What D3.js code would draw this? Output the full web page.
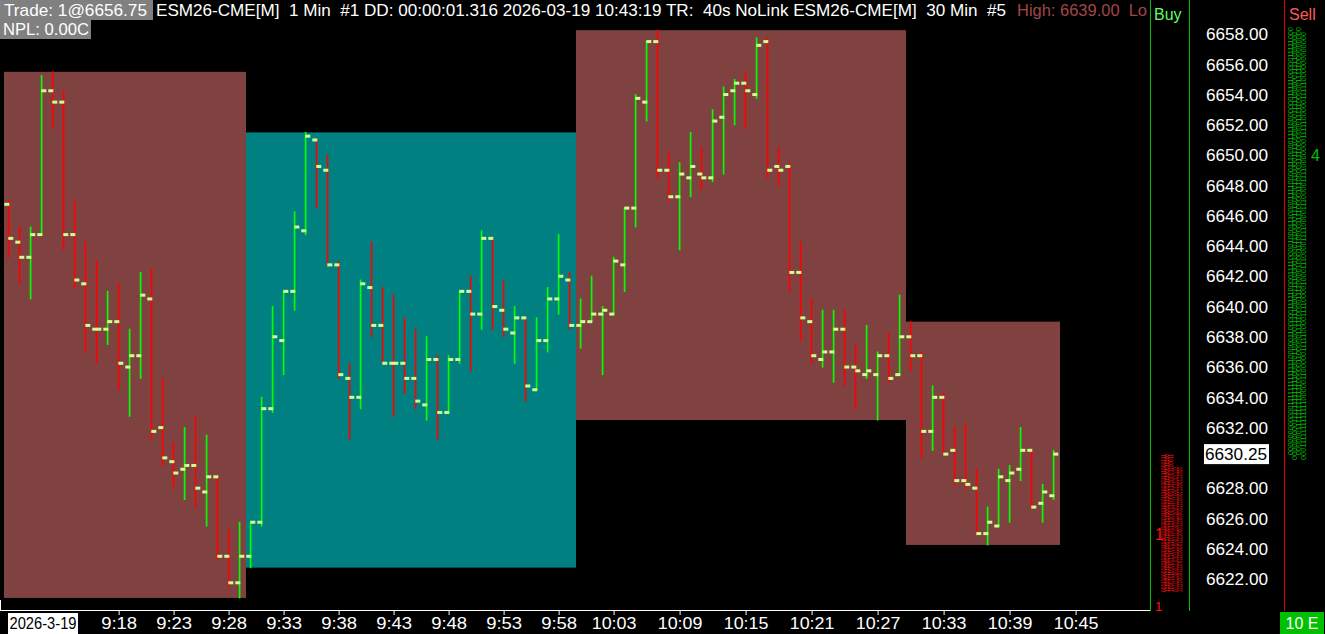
<!DOCTYPE html>
<html><head><meta charset="utf-8">
<script src="https://cdn.jsdelivr.net/npm/d3@7"></script>
<style>
body{margin:0;background:#000;overflow:hidden}
svg{display:block}
text{font-family:"Liberation Sans",Arial,sans-serif}
</style></head>
<body><svg id="c" width="1325" height="634"></svg>
<script>
// ---------- data ----------
const firstBarTime = [9, 8];          // 09:08, one bar per minute
const opens  = [6646.75,6644.25,6643.25,6644.75,6654.25,6653.5,6644.75,6641.5,6638.5,6638.5,6639,6636,6636.75,6640.5,6632,6629.75,6629.25,6629.5,6627.75,6628.75,6623.5,6621.75,
                6623.5,6625.75,6633.25,6637.75,6641,6645,6651,6649,6642.75,6635.25,6634,6641.25,6638.75,6636.25,6636.25,6635.25,6633.5,6636.5,6633,6636.5,6641,6639.5,6644.5,6639.75,6638.25,6639.25,6634.5,6637.75,6640.5,6641.75,
                6638.75,6639,6639.5,6639.5,6642.75,6646.5,6653.5,6657.5,6649,6647.25,6648.5,6648.75,6648.5,6652.5,6654.25,6654.75,6654,6657.5,6649.25,6649.25,6642.25,6639,6636.5,6637,6638.5,6636,6635.5,6635.5,6636.75,6635.5,
                6638,6636.75,6631.75,6634,6630.5,6628.5,6628,6625,6625.5,6628.5,6629.25,6630.5,6627,6627.5];
const highs  = [6647,6645.25,6645.25,6655.25,6655.5,6654.25,6647,6644.25,6643,6641,6641.5,6638.5,6642.25,6642.5,6635.25,6631,6632,6632.75,6631.5,6628.75,6625.25,6625.75,
                6625.75,6634,6640,6641,6646.25,6651.5,6651,6650,6643,6636.25,6641.75,6644.25,6641.25,6640.75,6639.25,6638.5,6638,6636.75,6636.75,6641,6642,6645,6644.5,6641.75,6640,6639.25,6639.25,6641.25,6644.75,6642.25,
                6640.5,6642,6640,6643.25,6646.5,6654,6657.5,6658.25,6650.25,6649.5,6651.5,6650.5,6653,6654.5,6655,6655.5,6657.75,6657.75,6650.5,6649.5,6644.25,6640.5,6639.75,6639.75,6639.75,6637.5,6638.75,6637,6638.25,6640.75,
                6639,6637,6634.75,6634.25,6632,6632.25,6629.25,6626.75,6629.25,6629.5,6632,6630.5,6628.25,6630.5];
const lows   = [6643.25,6641.5,6640.5,6644.75,6651.75,6643.75,6641.25,6637,6636.25,6637.5,6634.5,6632.75,6635.25,6631.25,6629.5,6628,6627.25,6626.75,6625.5,6623.25,6621.5,6620.75,
                6622.75,6625.5,6633,6635.5,6639.75,6644.75,6646.5,6642.75,6635.25,6631.25,6633.25,6638,6636.25,6632.75,6634.25,6633.25,6632.5,6631.25,6633,6636.25,6635.75,6638.5,6638.5,6638,6636.25,6633.75,6634.5,6637,6639.5,6638.5,
                6637.25,6639,6635.5,6639.5,6641,6645.25,6652.25,6648.5,6647,6643.75,6647.25,6647.75,6648.25,6648.75,6652,6651.75,6653.75,6648.5,6648,6641,6637.75,6636.25,6636,6635,6634.75,6633.25,6635.25,6632.5,6635,6635.5,
                6635.75,6630,6630.5,6630.25,6628.25,6628,6625,6624.25,6625.5,6625.75,6628.5,6626.75,6625.75,6627.25];
const closes = [6644.5,6643.25,6644.75,6654.25,6653.5,6644.75,6641.75,6638.75,6638.5,6639,6636.25,6636.75,6640.75,6631.75,6630,6629,6629.5,6628,6628.75,6623.5,6621.75,6623.5,
                6625.75,6633.25,6638,6641,6645.25,6651.25,6649.25,6642.75,6635.5,6634,6641.5,6638.75,6636.25,6636.25,6635.25,6633.75,6636.5,6633,6636.5,6641,6639.5,6644.5,6640,6638.5,6639.25,6634.75,6637.75,6640.5,6642,6638.75,
                6639,6639.5,6639.75,6643,6646.5,6653.75,6657.5,6649,6647.25,6648.75,6649.25,6648.5,6652.25,6654,6654.75,6654.25,6657.25,6649,6649,6642.25,6639.25,6636.75,6637,6638.5,6636,6635.75,6635.75,6636.75,6635.25,6638,
                6636.75,6631.75,6634,6630.25,6628.5,6628.25,6625,6625.75,6628.75,6629,6630.5,6626.75,6627.75,6630.25];
const priceTicks = [6622,6624,6626,6628,6632,6634,6636,6638,6640,6642,6644,6646,6648,6650,6652,6654,6656,6658];
const timeTickLabels = ["9:18","9:23","9:28","9:33","9:38","9:43","9:48","9:53","9:58","10:03","10:09","10:15","10:21","10:27","10:33","10:39","10:45"];
const dateLabel = "2026-3-19";
const lastPrice = 6630.25;
const headerTrade = "Trade: 1@6656.75";
const headerMain = "ESM26-CME[M]  1 Min  #1 DD: 00:00:01.316 2026-03-19 10:43:19 TR:  40s NoLink ESM26-CME[M]  30 Min  #5";
const headerHigh = "High: 6639.00  Lo";
const headerNPL = "NPL: 0.00C";

// ---------- colours ----------
const C = {bg:"#000", up:"#00ff00", dn:"#ff0000", tick:"#ccff90", boxDn:"#804141", boxUp:"#008080",
           white:"#ffffff", grey:"#808080", high:"#a24646", buy:"#60ff60", sell:"#ff5a5a", ggreen:"#00c000"};

const svg = d3.select("#c");
svg.append("rect").attr("width",1325).attr("height",634).attr("fill",C.bg);

const t0 = new Date(2026,2,19,firstBarTime[0],firstBarTime[1]);
const times = opens.map((_,i)=>d3.timeMinute.offset(t0,i));
const step = 11;
const x = d3.scaleTime().domain([t0, times[times.length-1]]).range([8.6, 8.6 + (times.length-1)*step]);
const y = d3.scaleLinear().domain([6622,6658]).range([579,34]);

const bars = opens.map((o,i)=>({t:times[i],o,h:highs[i],l:lows[i],c:closes[i]}));

// ---------- 30 min boxes ----------
const groups = d3.groups(bars, d=>Math.floor((d.t.getHours()*60+d.t.getMinutes())/30));
const plot = svg.append("g");
plot.selectAll("rect.box").data(groups).join("rect").attr("class","box")
  .attr("x", g=>x(g[1][0].t)-4.6)
  .attr("width", g=>g[1].length*step)
  .attr("y", g=>y(d3.max(g[1],d=>d.h)))
  .attr("height", g=>y(d3.min(g[1],d=>d.l))-y(d3.max(g[1],d=>d.h)))
  .attr("fill", g=>g[1][g[1].length-1].c > g[1][0].o ? C.boxUp : C.boxDn);

// ---------- OHLC bars ----------
const bg = plot.append("g");
bg.selectAll("line").data(bars).join("line")
  .attr("x1",d=>x(d.t)).attr("x2",d=>x(d.t))
  .attr("y1",d=>y(d.h)-0.5).attr("y2",d=>y(d.l)+0.5)
  .attr("stroke",d=>d.c>d.o?C.up:C.dn).attr("stroke-width",1.7);
bg.selectAll("rect.o").data(bars).join("rect").attr("class","o")
  .attr("x",d=>x(d.t)-4.3).attr("width",5).attr("y",d=>y(d.o)-1.5).attr("height",3).attr("fill",C.tick);
bg.selectAll("rect.c").data(bars).join("rect").attr("class","c")
  .attr("x",d=>x(d.t)-0.3).attr("width",5).attr("y",d=>y(d.c)-1.5).attr("height",3).attr("fill",C.tick);

// ---------- bottom time axis ----------
svg.append("line").attr("x1",0).attr("x2",1150).attr("y1",610.5).attr("y2",610.5).attr("stroke",C.white);
svg.append("line").attr("x1",0.5).attr("x2",0.5).attr("y1",600).attr("y2",611).attr("stroke",C.white);
const tickTimes = timeTickLabels.map(s=>{const [h,m]=s.split(":").map(Number);return new Date(2026,2,19,h,m);});
const axisG = svg.append("g").attr("transform","translate(0,611)");
const xAxis = d3.axisBottom(x).tickValues(tickTimes).tickFormat((d,i)=>timeTickLabels[i]).tickSize(4).tickPadding(2);
axisG.call(xAxis);
axisG.select(".domain").remove();
axisG.selectAll(".tick line").attr("stroke",C.white);
axisG.selectAll(".tick text").attr("fill",C.white).attr("font-size",16).attr("dy",0).attr("y",18)
  .attr("textLength",(d,i)=>{const s=timeTickLabels[i];return (s.length-1)*8.8+9.5;}).attr("lengthAdjust","spacingAndGlyphs");
svg.append("rect").attr("x",8).attr("y",613).attr("width",70).attr("height",21).attr("fill",C.white);
svg.append("text").attr("x",9.5).attr("y",629).attr("font-size",16).attr("fill","#000")
  .attr("textLength",67).attr("lengthAdjust","spacingAndGlyphs").text(dateLabel);

// ---------- right price axis ----------
const yAxisG = svg.append("g").attr("transform","translate(1268,0)");
yAxisG.call(d3.axisLeft(y).tickValues(priceTicks).tickFormat(d3.format(".2f")).tickSize(0).tickPadding(0));
yAxisG.select(".domain").remove();
yAxisG.selectAll(".tick text").attr("fill",C.white).attr("font-size",16).attr("dy","0.36em")
  .attr("textLength",62).attr("lengthAdjust","spacingAndGlyphs");
svg.append("rect").attr("x",1204).attr("y",y(lastPrice)-10).attr("width",65).attr("height",20).attr("fill",C.white);
svg.append("text").attr("x",1267).attr("y",y(lastPrice)).attr("dy","0.36em").attr("text-anchor","end")
  .attr("font-size",16).attr("fill","#000").attr("textLength",62).attr("lengthAdjust","spacingAndGlyphs")
  .text(d3.format(".2f")(lastPrice));

// column lines
svg.append("line").attr("x1",1150.5).attr("x2",1150.5).attr("y1",0).attr("y2",611).attr("stroke","#00c000");
svg.append("line").attr("x1",1189.5).attr("x2",1189.5).attr("y1",0).attr("y2",611).attr("stroke","#00c000");
svg.append("line").attr("x1",1284.5).attr("x2",1284.5).attr("y1",0).attr("y2",611).attr("stroke","#e00000");
svg.append("text").attr("x",1154).attr("y",20).attr("font-size",16).attr("fill",C.buy).text("Buy");
svg.append("text").attr("x",1289).attr("y",20).attr("font-size",16).attr("fill",C.sell).text("Sell");

// dense rotated volume text (sell column, green)
const sellCols = [1293,1297,1301,1306];
const sellStr = "0000000000001111111111111000001100000111110000111100001000111000011110000111000011110000000111110000011111000";
sellCols.forEach((cx,k)=>{
  svg.append("text").attr("transform",`translate(${cx},${k%2?460:455}) rotate(-90)`)
    .attr("font-size",7).attr("fill",C.ggreen).attr("textLength",428).attr("lengthAdjust","spacingAndGlyphs")
    .text(sellStr.slice(k*3)+sellStr.slice(0,k*3));
});
svg.append("text").attr("x",1311).attr("y",161).attr("font-size",16).attr("fill",C.ggreen).text("4");
// dense rotated volume text (buy column, red)
const buyCols = [1166,1169,1173,1178,1182];
const buyStr = "0011100011110000111001110000111100011100001111000111";
buyCols.forEach((cx,k)=>{
  svg.append("text").attr("transform",`translate(${cx},${592}) rotate(-90)`)
    .attr("font-size",7).attr("fill","#ff1010").attr("textLength",k<3?138:125).attr("lengthAdjust","spacingAndGlyphs")
    .text(buyStr.slice(k*2)+buyStr.slice(0,k*2));
});
svg.append("text").attr("x",1155).attr("y",540).attr("font-size",16).attr("fill","#ff1010").text("1");
svg.append("text").attr("x",1155).attr("y",611).attr("font-size",13).attr("fill","#ff1010").text("1");

// 10 E box
svg.append("rect").attr("x",1280).attr("y",612).attr("width",44).attr("height",22).attr("fill","#00c000");
svg.append("text").attr("x",1302).attr("y",629).attr("text-anchor","middle").attr("font-size",16).attr("fill",C.white).text("10 E");

// ---------- header ----------
svg.append("rect").attr("x",0).attr("y",0).attr("width",153).attr("height",20).attr("fill",C.grey);
svg.append("rect").attr("x",0).attr("y",20).attr("width",91).attr("height",19).attr("fill",C.grey);
svg.append("text").attr("x",4).attr("y",16).attr("font-size",17).attr("fill",C.white)
  .attr("textLength",143).attr("lengthAdjust","spacingAndGlyphs").text(headerTrade);
svg.append("text").attr("x",156).attr("y",16).attr("font-size",17).attr("fill",C.white).attr("xml:space","preserve")
  .style("white-space","pre").attr("textLength",850).attr("lengthAdjust","spacingAndGlyphs").text(headerMain);
svg.append("clipPath").attr("id","hc").append("rect").attr("x",1010).attr("y",0).attr("width",140).attr("height",22);
svg.append("text").attr("x",1017).attr("y",16).attr("font-size",17).attr("fill",C.high).attr("clip-path","url(#hc)")
  .style("white-space","pre").attr("textLength",130).attr("lengthAdjust","spacingAndGlyphs").text(headerHigh);
svg.append("text").attr("x",3).attr("y",35).attr("font-size",17).attr("fill",C.white)
  .attr("textLength",86).attr("lengthAdjust","spacingAndGlyphs").text(headerNPL);
</script></body></html>
